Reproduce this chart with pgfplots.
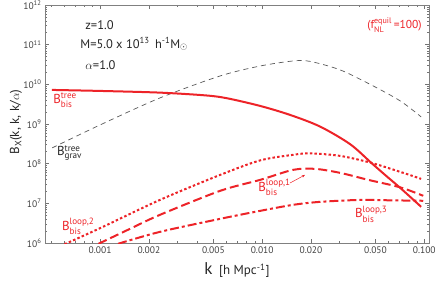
\documentclass[border=0pt]{standalone}
\usepackage{fontspec}
\setmainfont{PT Sans}
\usepackage{amsmath}
\usepackage{pgfplots}
\pgfplotsset{compat=1.18}
\usetikzlibrary{arrows.meta,calc}
\definecolor{myred}{RGB}{237,35,40}
\newcommand{\Blab}[2]{\mbox{B}$^{\text{#1}}_{\text{#2}}$}
\begin{document}
\begin{tikzpicture}
\begin{loglogaxis}[
 scale only axis, width=384pt, height=238pt,
 xmin=4.57e-4, xmax=0.107, ymin=1e6, ymax=1e12,
 axis line style={black!50, line width=0.6pt},
 every tick/.style={black!55, line width=0.5pt},
 major tick length=4pt, minor tick length=2pt,
 xtick={0.001,0.002,0.005,0.01,0.02,0.05,0.1},
 xticklabels={0.001,0.002,0.005,0.010,0.020,0.050,0.100},
 minor xtick={5e-4,6e-4,7e-4,8e-4,9e-4,3e-3,4e-3,6e-3,7e-3,8e-3,9e-3,3e-2,4e-2,6e-2,7e-2,8e-2,9e-2},
 ytick={1e6,1e7,1e8,1e9,1e10,1e11,1e12},
 yticklabels={10\textsuperscript{6},10\textsuperscript{7},10\textsuperscript{8},10\textsuperscript{9},10\textsuperscript{10},10\textsuperscript{11},10\textsuperscript{12}},
 minor ytick={2e6,3e6,4e6,5e6,6e6,7e6,8e6,9e6,2e7,3e7,4e7,5e7,6e7,7e7,8e7,9e7,2e8,3e8,4e8,5e8,6e8,7e8,8e8,9e8,2e9,3e9,4e9,5e9,6e9,7e9,8e9,9e9,2e10,3e10,4e10,5e10,6e10,7e10,8e10,9e10,2e11,3e11,4e11,5e11,6e11,7e11,8e11,9e11},
 tick label style={font=\fontsize{9.5}{10}\selectfont, text=black!75},
]
% gravitational tree
\addplot[black!65, line width=0.7pt, dash pattern=on 5pt off 4pt, smooth, tension=0.5] coordinates {
(5.06e-4,2.50e8) (1e-3,9.48e8) (2.34e-3,4.54e9) (5.51e-3,1.63e10)
(9.73e-3,2.90e10) (1.55e-2,3.88e10) (1.98e-2,3.78e10) (3.03e-2,2.31e10)
(4.71e-2,9.66e9) (7.11e-2,3.82e9) (9.57e-2,1.51e9)};
% bis tree
\addplot[myred, line width=2pt, smooth, tension=0.5] coordinates {
(5.04e-4,7.23e9) (1e-3,6.82e9) (2.34e-3,6.18e9) (4.5e-3,5.25e9) (6.08e-3,4.45e9)
(9.73e-3,2.85e9) (1.49e-2,1.69e9) (2.28e-2,8.59e8) (3.49e-2,3.10e8) (4.71e-2,1.05e8)
(5.82e-2,4.93e7) (7.11e-2,2.45e7) (9.57e-2,8.17e6)};
% loop,2 dotted
\addplot[myred, line width=2pt, dash pattern=on 2.5pt off 2.2pt, smooth, tension=0.5] coordinates {
(6.03e-4,9.3e5) (1e-3,2.37e6) (2.34e-3,1.22e7) (5.51e-3,5.22e7) (9.73e-3,1.21e8)
(1.55e-2,1.67e8) (1.98e-2,1.82e8) (3.03e-2,1.57e8) (4.71e-2,1.05e8) (7.11e-2,6.21e7) (9.57e-2,4.14e7)};
% loop,1 dashed
\addplot[myred, line width=2pt, dash pattern=on 9pt off 4pt, smooth, tension=0.5] coordinates {
(9.77e-4,9.55e5) (1.53e-3,2.28e6) (2.34e-3,5.13e6) (5.51e-3,2.07e7) (9.73e-3,3.91e7)
(1.55e-2,6.98e7) (2.12e-2,7.40e7) (3.03e-2,5.86e7) (4.51e-2,3.91e7) (7.11e-2,2.53e7) (9.86e-2,1.55e7)};
% loop,3 dash-dot
\addplot[myred, line width=2pt, dash pattern=on 9pt off 3pt on 3pt off 3pt, smooth, tension=0.5] coordinates {
(1.29e-3,9.55e5) (2.34e-3,1.91e6) (5.51e-3,4.07e6) (9.73e-3,6.47e6) (1.55e-2,9.16e6)
(2.28e-2,1.09e7) (4.03e-2,1.22e7) (6.25e-2,1.19e7) (9.86e-2,1.16e7)};

\coordinate (ll) at (rel axis cs:0,0);
\coordinate (ur) at (rel axis cs:1,1);

\node[anchor=west, text=black!85, font=\fontsize{12.5}{13}\selectfont] at (rel axis cs:0.096,0.916) {z=1.0};
\node[anchor=west, text=black!85, font=\fontsize{12.5}{13}\selectfont] at (rel axis cs:0.083,0.836) {M=5.0 x 10\textsuperscript{13}\, h\textsuperscript{-1}M$_\odot$};
\node[anchor=west, text=black!85, font=\fontsize{12.5}{13}\selectfont] at (rel axis cs:0.096,0.748) {$\alpha$=1.0};
\node[anchor=east, text=myred, font=\fontsize{11.5}{12}\selectfont] at (rel axis cs:0.99,0.916) {(f$^{\text{equil}}_{\text{NL}}$\,=100)};

\node[anchor=west, text=myred, font=\fontsize{13}{14}\selectfont, inner sep=0pt] at (rel axis cs:0.021,0.60) {\Blab{tree}{bis}};
\node[anchor=west, text=black!85, font=\fontsize{13}{14}\selectfont, inner sep=0pt] at (rel axis cs:0.031,0.378) {\Blab{tree}{grav}};
\node[anchor=west, text=myred, font=\fontsize{13}{14}\selectfont, inner sep=0pt] at (rel axis cs:0.044,0.071) {\Blab{loop,2}{bis}};
\node[anchor=west, text=myred, font=\fontsize{13}{14}\selectfont, inner sep=0pt] at (rel axis cs:0.555,0.235) {\Blab{loop,1}{bis}};
\node[anchor=west, text=myred, font=\fontsize{13}{14}\selectfont, inner sep=0pt] at (rel axis cs:0.807,0.122) {\Blab{loop,3}{bis}};
\draw[myred, line width=0.5pt, -{Stealth[length=3pt,width=2.5pt]}] (rel axis cs:0.638,0.252) -- (rel axis cs:0.677,0.286);
\end{loglogaxis}
\node[rotate=90, font=\fontsize{13}{14}\selectfont, text=black!85] at ([xshift=-29pt]$(ll)!0.508!(ll|-ur)$) {B\textsubscript{X}(k, k, k/$\alpha$)};
\node[font=\fontsize{13}{14}\selectfont, text=black!85] at ([yshift=-27pt]$(ll)!0.5!(ur|-ll)$) {{\fontsize{17}{18}\selectfont k}\hspace{0.5em}[h Mpc\textsuperscript{-1}]};
\pgfresetboundingbox
\path[use as bounding box] ([xshift=-45pt,yshift=-39pt]ll) rectangle ([xshift=7pt,yshift=5pt]ur);
\end{tikzpicture}
\end{document}
